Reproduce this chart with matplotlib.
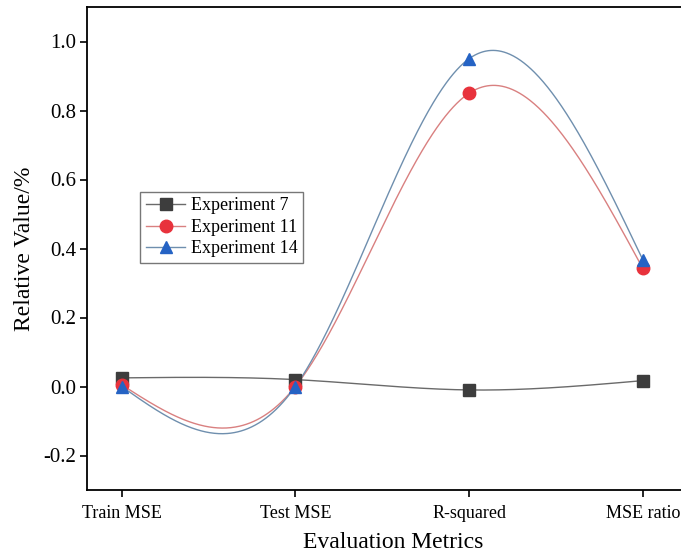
import numpy as np
import matplotlib.pyplot as plt

metrics = ['Train MSE', 'Test MSE', 'R-squared', 'MSE ratio']
exp7 = [0.025, 0.020, -0.010, 0.017]
exp11 = [0.005, 0.000, 0.850, 0.343]
exp14 = [0.000, 0.000, 0.950, 0.368]


def natural_spline(y, n=200):
    # natural cubic spline on x = 0, 1, 2, ... (unit spacing), like Origin's spline connect
    y = np.asarray(y, dtype=float)
    k = len(y)
    A = np.zeros((k, k))
    b = np.zeros(k)
    A[0, 0] = A[-1, -1] = 1
    for i in range(1, k - 1):
        A[i, i - 1:i + 2] = [1, 4, 1]
        b[i] = 6 * (y[i - 1] - 2 * y[i] + y[i + 1])
    M = np.linalg.solve(A, b)
    xs, ys = [], []
    for i in range(k - 1):
        t = np.linspace(0, 1, n)
        s = (M[i] * (1 - t) ** 3 + M[i + 1] * t ** 3) / 6 \
            + (y[i] - M[i] / 6) * (1 - t) + (y[i + 1] - M[i + 1] / 6) * t
        xs.append(i + t)
        ys.append(s)
    return np.concatenate(xs), np.concatenate(ys)


plt.rcParams['font.family'] = 'Liberation Serif'

fig = plt.figure(figsize=(6.81, 5.58), dpi=100)
ax = fig.add_axes([87 / 681, (558 - 490) / 558, (700 - 87) / 681, (490 - 7) / 558])

x = np.arange(len(metrics))
series = [
    ('Experiment 7', exp7, 's', '#3d3d3d', '#6a6a6a'),
    ('Experiment 11', exp11, 'o', '#e8323c', '#d98080'),
    ('Experiment 14', exp14, '^', '#2563c4', '#6f8fae'),
]
for label, vals, mk, mcol, lcol in series:
    sx, sy = natural_spline(vals)
    ax.plot(sx, sy, color=lcol, lw=1.0, zorder=2)
    ax.plot(x, vals, mk, color=mcol, ms=9, zorder=3)
    # legend proxy
    ax.plot([], [], color=lcol, lw=1.0, marker=mk, mfc=mcol, mec=mcol, ms=9, label=label)

ax.set_xlim(-0.2, 3.33)
ax.set_ylim(-0.3, 1.1)
ax.set_xticks(x)
ax.set_xticklabels(metrics)
ax.set_yticks([-0.2, 0.0, 0.2, 0.4, 0.6, 0.8, 1.0])
ax.set_yticklabels(['-0.2', '0.0', '0.2', '0.4', '0.6', '0.8', '1.0'])
ax.tick_params(direction='out', length=5, width=1.2)
ax.tick_params(axis='x', labelsize=13, pad=6)
ax.tick_params(axis='y', labelsize=15, pad=3)
for s in ax.spines.values():
    s.set_linewidth(1.3)
ax.set_xlabel('Evaluation Metrics', fontsize=17, labelpad=7)
ax.set_ylabel('Relative Value/%', fontsize=17, labelpad=6)

leg = ax.legend(loc='upper left', bbox_to_anchor=(0.087, 0.617), fontsize=13,
                frameon=True, fancybox=False, edgecolor='#555555',
                handlelength=2.2, borderpad=0.3, labelspacing=0.25, handletextpad=0.3,
                borderaxespad=0)
leg.get_frame().set_linewidth(1.0)

fig.savefig('out.png', dpi=100)
